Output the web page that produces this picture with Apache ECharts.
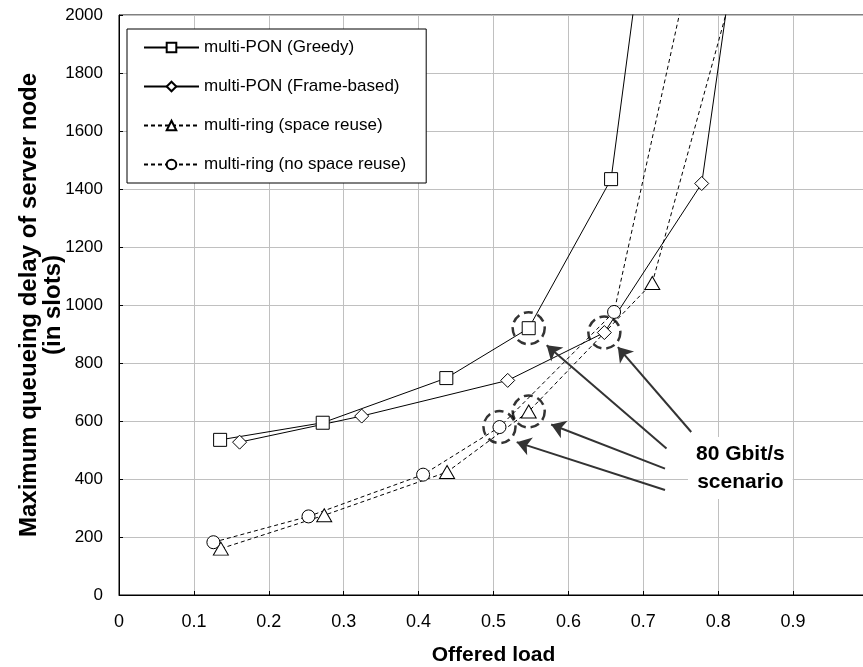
<!DOCTYPE html>
<html>
<head>
<meta charset="utf-8">
<script src="https://cdn.jsdelivr.net/npm/echarts@6/dist/echarts.min.js"></script>
<style>
  html, body { margin: 0; padding: 0; background: #fff; }
  #chart { width: 863px; height: 667px; }
</style>
</head>
<body>
<div id="chart"></div>
<script>
// values: [offered load, max queueing delay]
// the last point of each series lies above 2000, so its line leaves the top of the plot
const greedy = [[0.135, 535], [0.272, 594], [0.437, 748], [0.547, 920], [0.657, 1434], [0.70, 2273]];
const frameBased = [[0.161, 527], [0.324, 617], [0.519, 740], [0.648, 905], [0.778, 1419], [0.82, 2182]];
const ringSpaceReuse = [[0.136, 160], [0.274, 275], [0.438, 424], [0.547, 633], [0.712, 1076], [0.82, 2094]];
const ringNoReuse = [[0.126, 182], [0.253, 271], [0.406, 415], [0.508, 579], [0.661, 976], [0.76, 2141]];

const seriesNames = [
  'multi-PON (Greedy)',
  'multi-PON (Frame-based)',
  'multi-ring (space reuse)',
  'multi-ring (no space reuse)'
];

// the "80 Gbit/s scenario" points (4th point of every series) get a dashed ring
const scenarioPoints = [greedy[3], frameBased[3], ringSpaceReuse[3], ringNoReuse[3]];

// annotation arrows, tail -> head, in data units
const arrowTails = [[0.764, 562], [0.731, 505], [0.729, 436], [0.729, 362]];
const arrowHeads = [[0.666, 855], [0.571, 861], [0.577, 588], [0.531, 527]];

const annotationText = '80 Gbit/s\nscenario';

const chart = echarts.init(document.getElementById('chart'));

function lineSeries(name, data, symbol, size, dashed) {
  return {
    name: name,
    type: 'line',
    data: data,
    symbol: symbol,
    symbolSize: size,
    showAllSymbol: true,
    clip: true,
    lineStyle: { color: '#000', width: 1, type: dashed ? [4, 3] : 'solid' },
    itemStyle: { color: '#fff', borderColor: '#000', borderWidth: 1 },
    emphasis: { disabled: true },
    z: 3
  };
}

const option = {
  animation: false,
  backgroundColor: '#fff',
  grid: {
    left: 119,
    right: -5,
    top: 15,
    bottom: 72,
    outerBoundsMode: 'none',
    containLabel: false,
    show: true,
    borderColor: '#000',
    borderWidth: 1
  },
  legend: {
    orient: 'vertical',
    left: 127,
    top: 29,
    data: seriesNames,
    backgroundColor: '#fff',
    borderColor: '#000',
    borderWidth: 1,
    borderRadius: 0,
    padding: [10, 20, 10, 16],
    itemGap: 22,
    itemWidth: 55,
    itemHeight: 12,
    textStyle: { fontFamily: 'Liberation Sans, Arial, sans-serif', fontSize: 17, color: '#000' },
    selectedMode: false,
    z: 10
  },
  xAxis: {
    type: 'value',
    min: 0,
    max: 1,
    interval: 0.1,
    name: 'Offered load',
    nameLocation: 'middle',
    nameGap: 50,
    nameMoveOverlap: false,
    nameTextStyle: { fontFamily: 'Liberation Sans, Arial, sans-serif', fontSize: 21, fontWeight: 'bold', color: '#000' },
    axisLine: { lineStyle: { color: '#000', width: 1 } },
    axisTick: { inside: true, length: 4, lineStyle: { color: '#000' } },
    axisLabel: {
      margin: 18,
      color: '#000',
      fontFamily: 'Liberation Sans Narrow, Arial Narrow, sans-serif',
      fontSize: 18,
      formatter: function (v) { return v >= 1 ? '' : String(+v.toFixed(1)); }
    },
    splitLine: { show: true, lineStyle: { color: '#c0c0c0', width: 1 } }
  },
  yAxis: {
    type: 'value',
    min: 0,
    max: 2000,
    interval: 200,
    name: 'Maximum queueing delay of server node\n(in slots)',
    nameLocation: 'middle',
    nameGap: 54,
    nameMoveOverlap: false,
    nameTextStyle: { fontFamily: 'Liberation Sans, Arial, sans-serif', fontSize: 24, fontWeight: 'bold', color: '#000', lineHeight: 24 },
    axisLine: { show: true, lineStyle: { color: '#000', width: 1 } },
    axisTick: { show: true, inside: true, length: 4, lineStyle: { color: '#000' } },
    axisLabel: {
      margin: 16,
      color: '#000',
      fontFamily: 'Liberation Sans, Arial, sans-serif',
      fontSize: 17,
      formatter: function (v) { return String(v); }
    },
    splitLine: { show: true, lineStyle: { color: '#c0c0c0', width: 1 } }
  },
  graphic: [{
    type: 'text',
    left: 688,
    top: 437,
    z: 100,
    style: {
      text: annotationText,
      font: 'bold 21px "Liberation Sans", Arial, sans-serif',
      fill: '#000',
      textAlign: 'center',
      lineHeight: 28,
      backgroundColor: '#fff',
      padding: [3, 8]
    }
  }],
  series: [
    lineSeries(seriesNames[0], greedy, 'rect', 13, false),
    lineSeries(seriesNames[1], frameBased, 'diamond', 14, false),
    lineSeries(seriesNames[2], ringSpaceReuse, 'triangle', [15, 13], true),
    lineSeries(seriesNames[3], ringNoReuse, 'circle', 13, true),
    {
      name: 'scenario',
      type: 'scatter',
      data: scenarioPoints,
      symbol: 'circle',
      symbolSize: 32,
      itemStyle: { color: 'rgba(0,0,0,0)', borderColor: '#000', borderWidth: 2.5, borderType: [9, 5] },
      emphasis: { disabled: true },
      silent: true,
      z: 4,
      markLine: {
        silent: true,
        symbol: ['none', 'arrow'],
        symbolSize: 14,
        label: { show: false },
        lineStyle: { color: '#333', width: 2, type: 'solid' },
        emphasis: { disabled: true },
        data: arrowTails.map(function (t, i) {
          return [{ coord: t }, { coord: arrowHeads[i] }];
        })
      }
    }
  ]
};

chart.setOption(option);
</script>
</body>
</html>
